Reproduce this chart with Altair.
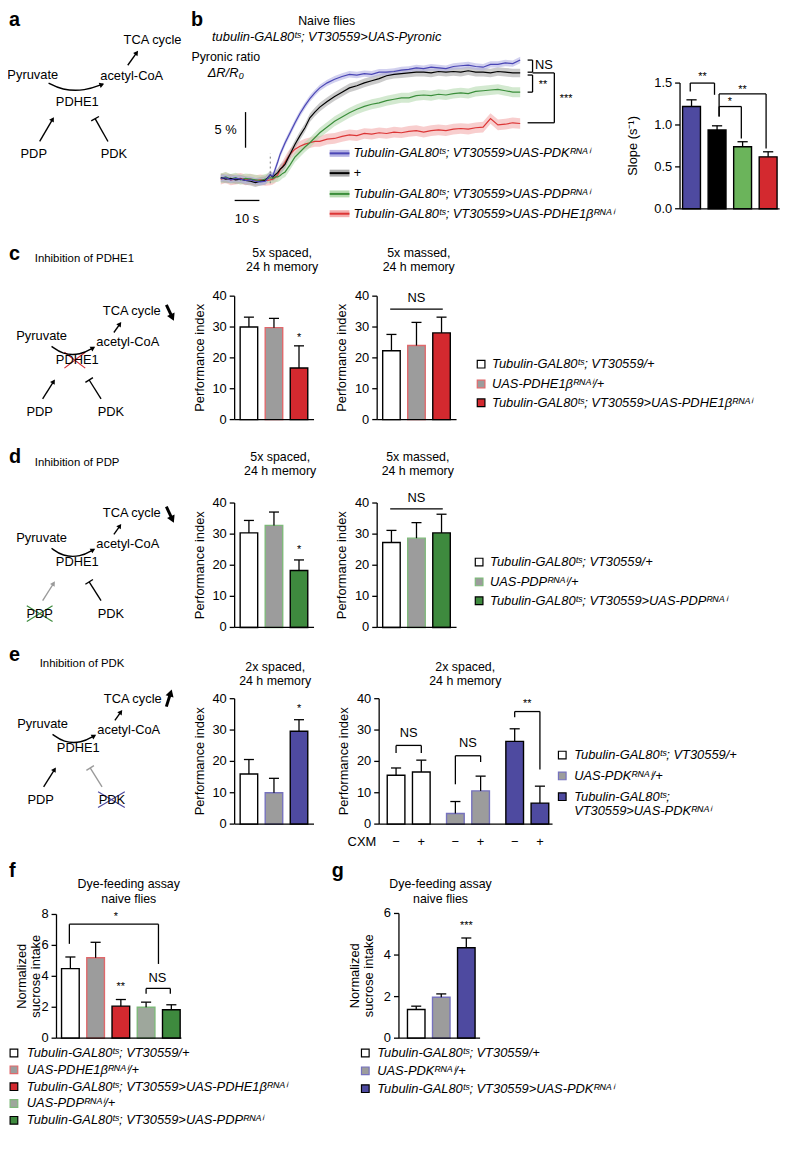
import math
import altair as alt
import pandas as pd

FONT = "Liberation Sans"
MARGIN = 8
W, H = 780, 1130
LEG = 13     # legend font size
TTL = 12.5   # panel title font size


def c(v):
    """reference page pixel -> canvas pixel"""
    return v - MARGIN


# ---------------- colours ----------------
K = "#000000"
WHITE = "#FFFFFF"
GRAY = "#9C9C9C"
GRAY_ARROW = "#9A9A9A"
BLUE = "#4E4AA0"
BLUE_EDGE = "#7672BE"
BLUE_LINE = "#4A46B5"
BLUE_BAND = "#B4B2E4"
RED = "#D3292F"
RED_EDGE = "#E0686B"
RED_LINE = "#DC3535"
RED_BAND = "#F3AEAE"
GREEN = "#3E8A3E"
GREEN_EDGE = "#7EB97A"
GREEN_LINE = "#3B8E3B"
GREEN_BAND = "#B5DBB0"
GREEN_SLOPE = "#6BB45B"
GRAY_GREEN = "#9EA79C"
BLACK_BAND = "#A9A9A9"

# ---------------- data ----------------
# b: Pyronic ratio dR/R0 (%) over time (s)
t_s = [0, 2, 4, 6, 8, 10, 12, 14, 16, 18,
       20, 21, 22, 23, 24, 25, 26, 27, 28,
       30, 32, 34, 36, 38, 40,
       43, 46, 49, 52, 55, 58, 61, 64, 67, 70, 73, 76, 79, 82, 85, 88, 91, 94,
       97, 100, 103, 106, 109, 112, 115, 118, 121]
pdk_trace = [0.1, 0.2, -0.1, 0.1, 0.0, -0.2, -0.1, -0.3, -0.4, -0.3,
             0.6, 0.4, 1.4, 2.4, 3.5, 4.3, 5.1, 5.8, 6.5,
             7.9, 9.2, 10.3, 11.3, 12.1, 12.8,
             13.5, 14.0, 14.4, 14.7, 14.6, 14.8, 14.7, 15.0, 15.0, 15.1, 15.3, 15.4, 15.6,
             15.5, 15.7, 15.6, 15.5, 15.8, 15.9, 16.0, 15.8, 15.7, 16.1, 16.1, 16.3, 16.2, 16.7]
ctrl_trace = [0.2, 0.0, 0.1, -0.1, 0.0, -0.2, -0.3, -0.5, -0.3, -0.2,
              0.6, 0.3, 0.6, 0.9, 1.4, 1.7, 2.1, 2.8, 3.5,
              4.9, 6.1, 7.2, 8.6, 9.4, 10.1,
              10.9, 11.6, 12.2, 12.8, 13.1, 13.5, 13.8, 14.1, 14.5, 14.7, 14.8, 14.9, 15.0,
              15.0, 14.9, 15.1, 15.0, 15.1, 15.0, 15.2, 15.0, 15.0, 14.9, 15.1, 15.0, 14.9, 14.9]
pdp_trace = [0.1, 0.3, 0.0, 0.2, -0.1, 0.1, 0.0, -0.1, -0.2, 0.0,
             0.2, 0.1, 0.3, 0.3, 0.5, 0.8, 1.0, 1.5, 2.0,
             3.1, 3.8, 4.5, 5.1, 5.8, 6.5,
             7.3, 8.1, 8.7, 9.3, 9.8, 10.2, 10.5, 10.7, 11.0, 11.2, 11.4, 11.4, 11.7,
             11.8, 11.7, 11.9, 11.8, 12.0, 12.1, 12.0, 12.3, 12.4, 12.5, 12.6, 12.4, 12.2, 12.2]
pdhe1_trace = [0.0, 0.2, -0.1, 0.0, 0.1, -0.1, 0.0, -0.2, -0.1, -0.2,
               -0.1, 0.0, 0.2, 0.6, 1.3, 1.8, 2.4, 3.0, 3.5,
               4.2, 4.6, 4.9, 5.1, 5.3, 5.3,
               5.6, 5.7, 6.0, 6.2, 6.1, 6.4, 6.3, 6.5, 6.4, 6.6, 6.5, 6.7, 6.8,
               6.6, 6.8, 6.9, 6.8, 7.0, 7.1, 7.0, 7.2, 7.3, 8.5, 7.6, 7.7, 7.9, 7.8]
trace_sem = {"pdk": 0.45, "ctrl": 0.6, "pdp": 0.7, "pdhe1": 0.75}

slope_mean = [1.22, 0.94, 0.74, 0.62]
slope_sem = [0.08, 0.05, 0.06, 0.06]

c_spaced_mean = [30.0, 29.8, 16.7]
c_spaced_sem = [3.2, 3.0, 7.2]
c_massed_mean = [22.3, 24.0, 28.1]
c_massed_sem = [5.3, 7.5, 5.1]

d_spaced_mean = [30.4, 32.8, 18.3]
d_spaced_sem = [4.0, 4.3, 3.4]
d_massed_mean = [27.3, 28.7, 30.4]
d_massed_sem = [3.9, 5.0, 6.0]

e_spaced_mean = [16.0, 10.0, 29.6]
e_spaced_sem = [4.6, 4.6, 3.7]
e_cxm_group = [0, 0, 1, 1, 2, 2]
e_cxm_sign = ["\u2212", "+", "\u2212", "+", "\u2212", "+"]
e_cxm_mean = [15.6, 16.6, 3.4, 10.6, 26.4, 6.7]
e_cxm_sem = [2.3, 3.8, 3.8, 4.7, 4.0, 5.4]

f_mean = [4.5, 5.2, 2.07, 2.0, 1.84]
f_sem = [0.75, 1.0, 0.43, 0.33, 0.32]

g_mean = [1.38, 1.97, 4.35]
g_sem = [0.16, 0.16, 0.47]

# labels
TS = "\u1d57\u02e2"
RN = "\u1d3f\u1d3a\u1d2c\u2071"
DRV = "Tubulin-GAL80" + TS + "; VT30559"
lab_ctrl = DRV + "/+"
lab_pdhe1_uas = "UAS-PDHE1\u03b2" + RN + "/+"
lab_pdhe1 = DRV + ">UAS-PDHE1\u03b2" + RN
lab_pdp_uas = "UAS-PDP" + RN + "/+"
lab_pdp = DRV + ">UAS-PDP" + RN
lab_pdk_uas = "UAS-PDK" + RN + "/+"
lab_pdk = DRV + ">UAS-PDK" + RN

# ---------------- page coordinate system (labels / diagrams) ----------------
PX = alt.Scale(domain=[0, 788], range=[-MARGIN, 788 - MARGIN], nice=False, zero=False)
PY = alt.Scale(domain=[0, 1152], range=[-MARGIN, 1152 - MARGIN], nice=False, zero=False)


def PXe(f):
    return alt.X(f, scale=PX, axis=None)


def PYe(f):
    return alt.Y(f, scale=PY, axis=None)


def page_text(rows, size=13, align="center", baseline="middle", style="normal", weight="normal"):
    df = pd.DataFrame(rows, columns=["x", "y", "text"])
    return alt.Chart(df).mark_text(font=FONT, fontSize=size, align=align, baseline=baseline,
                                   fontStyle=style, fontWeight=weight, color="black").encode(
        x=PXe("x:Q"), y=PYe("y:Q"), text="text:N")


def page_rules(rows):
    df = pd.DataFrame(rows, columns=["x", "x2", "y", "y2", "col", "w"])
    return alt.Chart(df).mark_rule().encode(
        x=PXe("x:Q"), x2="x2:Q", y=PYe("y:Q"), y2="y2:Q",
        color=alt.Color("col:N", scale=None), size=alt.Size("w:Q", scale=None))


# ---------------- diagrams ----------------
NODE_NAMES = ["TCA cycle", "Pyruvate", "acetyl-CoA", "PDHE1", "PDP", "PDK"]
diag_txt, seg_rows, head_rows, curve_rows = [], [], [], []


def unit(p0, p1):
    L = math.hypot(p1[0] - p0[0], p1[1] - p0[1])
    return (p1[0] - p0[0]) / L, (p1[1] - p0[1]) / L


def add_arrow(p0, p1, col, width=1.4, head=30):
    ux, uy = unit(p0, p1)
    back = 2.5 if head < 50 else 3.5
    seg_rows.append((p0[0], p1[0] - ux * back, p0[1], p1[1] - uy * back, col, width))
    ang = math.degrees(math.atan2(ux, -uy)) % 360
    head_rows.append((p1[0] - ux * back, p1[1] - uy * back, ang, col, head))


def add_inhib(p0, p1, col):
    ux, uy = unit(p0, p1)
    seg_rows.append((p0[0], p1[0], p0[1], p1[1], col, 1.4))
    qx, qy = -uy * 4.5, ux * 4.5
    seg_rows.append((p1[0] - qx, p1[0] + qx, p1[1] - qy, p1[1] + qy, col, 1.4))


def add_diagram(origin, nodes, up, curve, pdp, pdk, bold=None, cross=None,
                pdp_col=K, pdk_col=K, cid="a"):
    ox, oy = origin
    P = lambda p: (ox + p[0], oy + p[1])
    for name, p in zip(NODE_NAMES, nodes):
        q = P(p)
        diag_txt.append((q[0], q[1], name))
    add_arrow(P(up[0]), P(up[1]), K)
    pts = [P(p) for p in curve]
    for i, q in enumerate(pts):
        curve_rows.append((cid, i, q[0], q[1], K))
    ux, uy = unit(pts[-2], pts[-1])
    head_rows.append((pts[-1][0] - ux * 2, pts[-1][1] - uy * 2,
                      math.degrees(math.atan2(ux, -uy)) % 360, K, 30))
    add_arrow(P(pdp[0]), P(pdp[1]), pdp_col)
    add_inhib(P(pdk[0]), P(pdk[1]), pdk_col)
    if bold:
        add_arrow(P(bold[0]), P(bold[1]), K, width=3, head=70)
    if cross:
        (a0, a1), (b0, b1), col = cross
        seg_rows.append((P(a0)[0], P(a1)[0], P(a0)[1], P(a1)[1], col, 1.2))
        seg_rows.append((P(b0)[0], P(b1)[0], P(b0)[1], P(b1)[1], col, 1.2))


tmpl_nodes = [(0, 0), (-91, 26), (-4, 32), (-55, 50), (-93, 102), (-21, 102)]
tmpl_up = ((-18, 22), (-11, 12))
tmpl_curve = [(-81, 36), (-70, 44), (-52, 45), (-38, 37)]
tmpl_pdp = ((-90, 89), (-78, 70))
tmpl_pdk = ((-31, 89), (-43, 70))

add_diagram((154, 35), [(0, 0), (-121, 35), (-21, 36), (-76, 62), (-120, 115), (-39, 115)],
            ((-25, 25), (-15, 11)), [(-105, 43), (-92, 50), (-68, 51), (-50, 44)],
            ((-114, 102), (-100, 78)), ((-45, 102), (-58, 79)), cid="a")
add_diagram((133, 308), tmpl_nodes, tmpl_up, tmpl_curve, tmpl_pdp, tmpl_pdk,
            bold=((35, -6), (42, 9)),
            cross=(((-68, 42), (-47, 58)), ((-68, 58), (-47, 42)), RED), cid="c")
add_diagram((133, 512), tmpl_nodes, tmpl_up, tmpl_curve, tmpl_pdp, tmpl_pdk,
            bold=((35, -6), (42, 9)),
            cross=(((-106, 94), (-80, 110)), ((-106, 110), (-80, 94)), GREEN),
            pdp_col=GRAY_ARROW, cid="d")
add_diagram((134, 700), tmpl_nodes, tmpl_up, tmpl_curve, tmpl_pdp, tmpl_pdk,
            bold=((34, 8), (39, -8)),
            cross=(((-35, 94), (-8, 110)), ((-35, 110), (-8, 94)), BLUE),
            pdk_col=GRAY_ARROW, cid="e")

# ---------------- page texts ----------------
letters = [(9, 20, "a"), (193, 20, "b"), (9, 257, "c"), (9, 462, "d"),
           (9, 662, "e"), (9, 880, "f"), (335, 880, "g")]
title_rows = [
    (330, 15, "Naive flies"), (228, 52, "Pyronic ratio"),
    (285, 250, "5x spaced,"), (285, 264, "24 h memory"),
    (423, 250, "5x massed,"), (423, 264, "24 h memory"),
    (283, 456, "5x spaced,"), (283, 470, "24 h memory"),
    (422, 456, "5x massed,"), (422, 470, "24 h memory"),
    (278, 668, "2x spaced,"), (278, 682, "24 h memory"),
    (470, 668, "2x spaced,"), (470, 682, "24 h memory"),
    (130, 887, "Dye-feeding assay"), (130, 902, "naive flies"),
    (445, 887, "Dye-feeding assay"), (445, 902, "naive flies"),
]
left_rows = [(35, 256, "Inhibition of PDHE1"), (35, 462, "Inhibition of PDP"),
             (40, 665, "Inhibition of PDK")]
ital_rows = [(330, 31, "tubulin-GAL80" + TS + "; VT30559>UAS-Pyronic"),
             (228, 68, "\u0394R/R\u2080")]

legend_rows, sq_rows = [], []
legends = [
    (486, 497, [(362, WHITE, K, lab_ctrl), (382, GRAY, RED_EDGE, lab_pdhe1_uas),
                (401, RED, K, lab_pdhe1)]),
    (484, 495, [(562, WHITE, K, lab_ctrl), (582, GRAY, GREEN_EDGE, lab_pdp_uas),
                (601, GREEN, K, lab_pdp)]),
    (568, 580, [(757, WHITE, K, lab_ctrl), (778, GRAY, BLUE_EDGE, lab_pdk_uas),
                (799, BLUE, K, "Tubulin-GAL80" + TS + ";")]),
    (14, 27, [(1058, WHITE, K, lab_ctrl), (1075, GRAY, RED_EDGE, lab_pdhe1_uas),
              (1092, RED, K, lab_pdhe1), (1109, GRAY_GREEN, GREEN_EDGE, lab_pdp_uas),
              (1126, GREEN, K, lab_pdp)]),
    (369, 381, [(1058, WHITE, K, lab_ctrl), (1076, GRAY, BLUE_EDGE, lab_pdk_uas),
                (1094, BLUE, K, lab_pdk)]),
]
for sx, tx, rows in legends:
    for y, fc, sc, lab in rows:
        sq_rows.append((sx, y, fc, sc))
        legend_rows.append((tx, y, lab))
legend_rows.append((580, 814, "VT30559>UAS-PDK" + RN))

b_legend = [(149, BLUE_LINE, BLUE_BAND, DRV + ">UAS-PDK" + RN),
            (169, K, BLACK_BAND, "+"),
            (190, GREEN_LINE, GREEN_BAND, DRV + ">UAS-PDP" + RN),
            (210, RED_LINE, RED_BAND, DRV + ">UAS-PDHE1\u03b2" + RN)]
swatch_rows = []
for y, lc, bc, lab in b_legend:
    swatch_rows.append((333, 353, y, y, bc, 7))
for y, lc, bc, lab in b_legend:
    swatch_rows.append((333, 353, y, y, lc, 2))
    legend_rows.append((357, y, lab))

sq_df = pd.DataFrame(sq_rows, columns=["x", "y", "fill", "stroke"])
head_df = pd.DataFrame(head_rows, columns=["x", "y", "ang", "col", "s"])
curve_df = pd.DataFrame(curve_rows, columns=["id", "o", "x", "y", "col"])

page = alt.layer(
    page_rules(seg_rows),
    alt.Chart(curve_df).mark_line(interpolate="basis", strokeWidth=1.4).encode(
        x=PXe("x:Q"), y=PYe("y:Q"), detail="id:N", order="o:Q",
        color=alt.Color("col:N", scale=None)),
    alt.Chart(head_df).mark_point(shape="triangle", filled=True, opacity=1, strokeWidth=0).encode(
        x=PXe("x:Q"), y=PYe("y:Q"), angle=alt.Angle("ang:Q", scale=None),
        fill=alt.Fill("col:N", scale=None), size=alt.Size("s:Q", scale=None)),
    page_rules(swatch_rows),
    alt.Chart(sq_df).mark_point(shape="square", filled=True, size=60, strokeWidth=1.2, opacity=1).encode(
        x=PXe("x:Q"), y=PYe("y:Q"), fill=alt.Fill("fill:N", scale=None),
        stroke=alt.Stroke("stroke:N", scale=None)),
    page_text(letters, size=20, align="left", baseline="alphabetic", weight="bold"),
    page_text(title_rows, size=TTL),
    page_text(left_rows, size=11.5, align="left"),
    page_text(ital_rows, size=13, style="italic"),
    page_text(legend_rows, size=LEG, align="left", style="italic"),
    page_text(diag_txt, size=13),
)

# ---------------- panel b: time course ----------------
ts_x = alt.Scale(domain=[0, 121], range=[c(223), c(525.5)], nice=False, zero=False)
ts_y = alt.Scale(domain=[0, 20], range=[c(175), c(31)], nice=False, zero=False)


def TX(f):
    return alt.X(f, scale=ts_x, axis=None)


def TY(f):
    return alt.Y(f, scale=ts_y, axis=None)


series = [("pdhe1", pdhe1_trace, RED_LINE, RED_BAND),
          ("pdp", pdp_trace, GREEN_LINE, GREEN_BAND),
          ("ctrl", ctrl_trace, K, BLACK_BAND),
          ("pdk", pdk_trace, BLUE_LINE, BLUE_BAND)]
ts_bands, ts_lines = [], []
for name, vals, lc, bc in series:
    df = pd.DataFrame({"t": t_s, "v": vals})
    df["lo"] = df["v"] - trace_sem[name]
    df["hi"] = df["v"] + trace_sem[name]
    ts_bands.append(alt.Chart(df).mark_area(color=bc, opacity=0.6).encode(
        x=TX("t:Q"), y=TY("lo:Q"), y2="hi:Q"))
    ts_lines.append(alt.Chart(df).mark_line(color=lc, strokeWidth=1.2).encode(
        x=TX("t:Q"), y=TY("v:Q")))

b_segs = pd.DataFrame([
    (10, 10, 4.4, 9.4), (5.6, 15.6, -3.0, -3.0),
    (124, 126, 16.7, 16.7), (126, 126, 16.7, 15.0), (124, 126, 15.0, 15.0),
    (124, 126, 14.6, 14.6), (126, 126, 14.6, 12.2), (124, 126, 12.2, 12.2),
    (126, 134.8, 14.9, 14.9), (134.8, 134.8, 14.9, 7.9), (124, 134.8, 7.9, 7.9),
], columns=["x", "x2", "y", "y2"])
b_stim = pd.DataFrame({"x": [20], "y": [-0.6], "y2": [3.6]})
b_txt_r = pd.DataFrame([(6.4, 6.9, "5 %")], columns=["x", "y", "text"])
b_txt_c = pd.DataFrame([(10.6, -5.6, "10 s")], columns=["x", "y", "text"])
b_txt_l = pd.DataFrame([(127, 16.0, "NS")], columns=["x", "y", "text"])
b_star = pd.DataFrame([(128.5, 13.2, "**"), (137, 11.2, "***")], columns=["x", "y", "text"])

ts_chart = alt.layer(
    *ts_bands, *ts_lines,
    alt.Chart(b_segs).mark_rule(color="black", strokeWidth=1.3).encode(
        x=TX("x:Q"), x2="x2:Q", y=TY("y:Q"), y2="y2:Q"),
    alt.Chart(b_stim).mark_rule(color="#777777", strokeWidth=1, strokeDash=[2, 3]).encode(
        x=TX("x:Q"), y=TY("y:Q"), y2="y2:Q"),
    alt.Chart(b_txt_r).mark_text(font=FONT, fontSize=13, align="right", baseline="middle").encode(
        x=TX("x:Q"), y=TY("y:Q"), text="text:N"),
    alt.Chart(b_txt_c).mark_text(font=FONT, fontSize=13, align="center", baseline="middle").encode(
        x=TX("x:Q"), y=TY("y:Q"), text="text:N"),
    alt.Chart(b_txt_l).mark_text(font=FONT, fontSize=13, align="left", baseline="middle").encode(
        x=TX("x:Q"), y=TY("y:Q"), text="text:N"),
    alt.Chart(b_star).mark_text(font=FONT, fontSize=11, align="left", baseline="middle").encode(
        x=TX("x:Q"), y=TY("y:Q"), text="text:N"),
)


# ---------------- bar panels ----------------
def bar_panel(pos, mean, sem, fills, strokes, axis_x, step, xdom, y0, ytop, ydom,
              yticks, fmt, ytitle, title_dx, brackets=(), notes=(), signs=None):
    x0 = c(axis_x)
    xs = alt.Scale(domain=list(xdom), range=[x0, x0 + (xdom[1] - xdom[0]) * step],
                   nice=False, zero=False)
    ys = alt.Scale(domain=list(ydom), range=[c(y0), c(ytop)], nice=False, zero=False)
    X = lambda f: alt.X(f, scale=xs, axis=None)
    Y = lambda f: alt.Y(f, scale=ys, axis=None)

    df = pd.DataFrame({"pos": pos, "mean": mean, "sem": sem, "fill": fills, "stroke": strokes})
    df["lo"] = df["pos"] - 0.35
    df["hi"] = df["pos"] + 0.35
    df["base"] = ydom[0]
    df["top"] = df["mean"] + df["sem"]
    df["cl"] = df["pos"] - 0.2
    df["ch"] = df["pos"] + 0.2

    tick = 5.0 / step
    ax_rows = [(xdom[0], xdom[0], ydom[0], ydom[1]), (xdom[0], xdom[1], ydom[0], ydom[0])]
    ax_rows += [(xdom[0] - tick, xdom[0], v, v) for v in yticks]
    ax_df = pd.DataFrame(ax_rows, columns=["x", "x2", "y", "y2"])
    lab_df = pd.DataFrame({"x": [xdom[0]] * len(yticks), "y": list(yticks),
                           "text": [format(v, fmt) for v in yticks]})
    ttl_df = pd.DataFrame({"x": [xdom[0] + title_dx / step], "y": [(ydom[0] + ydom[1]) / 2],
                           "text": [ytitle]})

    layers = [
        alt.Chart(df).mark_bar(strokeWidth=1.4).encode(
            x=X("lo:Q"), x2="hi:Q", y=Y("base:Q"), y2="mean:Q",
            fill=alt.Fill("fill:N", scale=None), stroke=alt.Stroke("stroke:N", scale=None)),
        alt.Chart(df).mark_rule(color="black", strokeWidth=1.3).encode(
            x=X("pos:Q"), y=Y("mean:Q"), y2="top:Q"),
        alt.Chart(df).mark_rule(color="black", strokeWidth=1.3).encode(
            x=X("cl:Q"), x2="ch:Q", y=Y("top:Q")),
        alt.Chart(ax_df).mark_rule(color="black", strokeWidth=1.3).encode(
            x=X("x:Q"), x2="x2:Q", y=Y("y:Q"), y2="y2:Q"),
        alt.Chart(lab_df).mark_text(font=FONT, fontSize=13, align="right", baseline="middle",
                                    dx=-8).encode(x=X("x:Q"), y=Y("y:Q"), text="text:N"),
        alt.Chart(ttl_df).mark_text(font=FONT, fontSize=13, align="center", baseline="middle",
                                    angle=270, lineBreak="|", lineHeight=14).encode(
            x=X("x:Q"), y=Y("y:Q"), text="text:N"),
    ]
    segs = []
    for x1, x2, yt, yl, yr in brackets:
        segs.append((x1, x2, yt, yt))
        if yl != yt:
            segs.append((x1, x1, yl, yt))
        if yr != yt:
            segs.append((x2, x2, yr, yt))
    if segs:
        sdf = pd.DataFrame(segs, columns=["x", "x2", "y", "y2"])
        layers.append(alt.Chart(sdf).mark_rule(color="black", strokeWidth=1.3).encode(
            x=X("x:Q"), x2="x2:Q", y=Y("y:Q"), y2="y2:Q"))
    ns = [n for n in notes if "*" not in n[2]]
    st = [n for n in notes if "*" in n[2]]
    for rows, size in ((ns, 13), (st, 11)):
        if rows:
            ndf = pd.DataFrame(rows, columns=["x", "y", "text"])
            layers.append(alt.Chart(ndf).mark_text(font=FONT, fontSize=size, baseline="middle").encode(
                x=X("x:Q"), y=Y("y:Q"), text="text:N"))
    if signs is not None:
        sg = pd.DataFrame({"pos": pos, "sign": signs, "zero": [ydom[0]] * len(pos)})
        layers.append(alt.Chart(sg).mark_text(font=FONT, fontSize=13, baseline="middle", dy=18).encode(
            x=X("pos:Q"), y=Y("zero:Q"), text="sign:N"))
        cl = pd.DataFrame({"x": [xdom[0]], "zero": [ydom[0]], "text": ["CXM"]})
        layers.append(alt.Chart(cl).mark_text(font=FONT, fontSize=13, baseline="middle", align="right",
                                              dx=-3, dy=18).encode(
            x=X("x:Q"), y=Y("zero:Q"), text="text:N"))
    return alt.layer(*layers)


slope = bar_panel([1, 2, 3, 4], slope_mean, slope_sem, [BLUE, K, GREEN_SLOPE, RED], [K] * 4,
                  687, 25.8, (0.55, 4.45), 205, 78, (0, 1.5), [0, 0.5, 1, 1.5], ".1f",
                  "Slope (s\u207b\u00b9)", -47,
                  brackets=[(0.95, 1.9, 1.5, 1.40, 1.36), (2.08, 2.95, 1.22, 1.10, 0.84),
                            (2.08, 3.92, 1.37, 1.10, 0.72)],
                  notes=[(1.43, 1.57, "**"), (2.5, 1.27, "*"), (3.0, 1.42, "**")])

PI = "Performance index"
T40 = [0, 10, 20, 30, 40]
c1 = bar_panel([1, 2, 3], c_spaced_mean, c_spaced_sem, [WHITE, GRAY, RED], [K, RED_EDGE, K],
               237, 25.3, (0.43, 3.6), 418, 293.3, (0, 40), T40, "d", PI, -35,
               notes=[(3, 26.3, "*")])
c2 = bar_panel([1, 2, 3], c_massed_mean, c_massed_sem, [WHITE, GRAY, RED], [K, RED_EDGE, K],
               381, 25.3, (0.43, 3.6), 418, 293.3, (0, 40), T40, "d", PI, -35,
               brackets=[(0.95, 3.05, 35.8, 35.8, 35.8)], notes=[(2, 39.3, "NS")])
d1 = bar_panel([1, 2, 3], d_spaced_mean, d_spaced_sem, [WHITE, GRAY, GREEN], [K, GREEN_EDGE, K],
               237, 25.3, (0.43, 3.6), 628, 502.3, (0, 40), T40, "d", PI, -35,
               notes=[(3, 24.8, "*")])
d2 = bar_panel([1, 2, 3], d_massed_mean, d_massed_sem, [WHITE, GRAY, GREEN], [K, GREEN_EDGE, K],
               381, 25.3, (0.43, 3.6), 628, 502.3, (0, 40), T40, "d", PI, -35,
               brackets=[(0.95, 3.05, 38.1, 38.1, 38.1)], notes=[(2, 41.6, "NS")])
e1 = bar_panel([1, 2, 3], e_spaced_mean, e_spaced_sem, [WHITE, GRAY, BLUE], [K, BLUE_EDGE, K],
               237, 25.3, (0.43, 3.6), 826.7, 700, (0, 40), T40, "d", PI, -35,
               notes=[(3, 36.6, "*")])
e_pos = [1 + g * 2.35 + (i % 2) for i, g in enumerate(e_cxm_group)]
e2 = bar_panel(e_pos, e_cxm_mean, e_cxm_sem, [WHITE, WHITE, GRAY, GRAY, BLUE, BLUE],
               [K, K, BLUE_EDGE, BLUE_EDGE, K, K],
               383, 25.5, (0.33, 7.2), 826.7, 700, (0, 40), T40, "d", PI, -35,
               brackets=[(1, 2, 25.1, 22.7, 22.7), (3.35, 4.35, 21.8, 12.7, 19.8),
                         (5.7, 6.7, 35.9, 34.1, 17.4)],
               notes=[(1.5, 29.0, "NS"), (3.85, 25.9, "NS"), (6.2, 38.3, "**")],
               signs=e_cxm_sign)
NS_T = "Normalized|sucrose intake"
fpan = bar_panel([1, 2, 3, 4, 5], f_mean, f_sem, [WHITE, GRAY, RED, GRAY_GREEN, GREEN],
                 [K, RED_EDGE, K, GREEN_EDGE, K],
                 57, 25.5, (0.45, 5.4), 1043, 918, (0, 8), [0, 2, 4, 6, 8], "d", NS_T, -35,
                 brackets=[(0.96, 4.49, 7.37, 6.1, 4.8), (4.0, 4.96, 3.22, 2.88, 2.88)],
                 notes=[(2.8, 7.85, "*"), (4.45, 3.9, "NS"), (3.0, 3.3, "**")])
gpan = bar_panel([1, 2, 3], g_mean, g_sem, [WHITE, GRAY, BLUE], [K, BLUE_EDGE, K],
                 403, 25.3, (0.31, 3.55), 1043, 917, (0, 6), [0, 2, 4, 6], "d", NS_T, -44,
                 notes=[(3, 5.4, "***")])

chart = alt.layer(page, ts_chart, slope, c1, c2, d1, d2, e1, e2, fpan, gpan).resolve_scale(
    x="independent", y="independent"
).properties(
    width=W, height=H, padding=0, autosize=alt.AutoSizeParams(type="none")
).configure_view(stroke=None)

chart.save("out.html", embed_options={"renderer": "svg", "actions": False})
